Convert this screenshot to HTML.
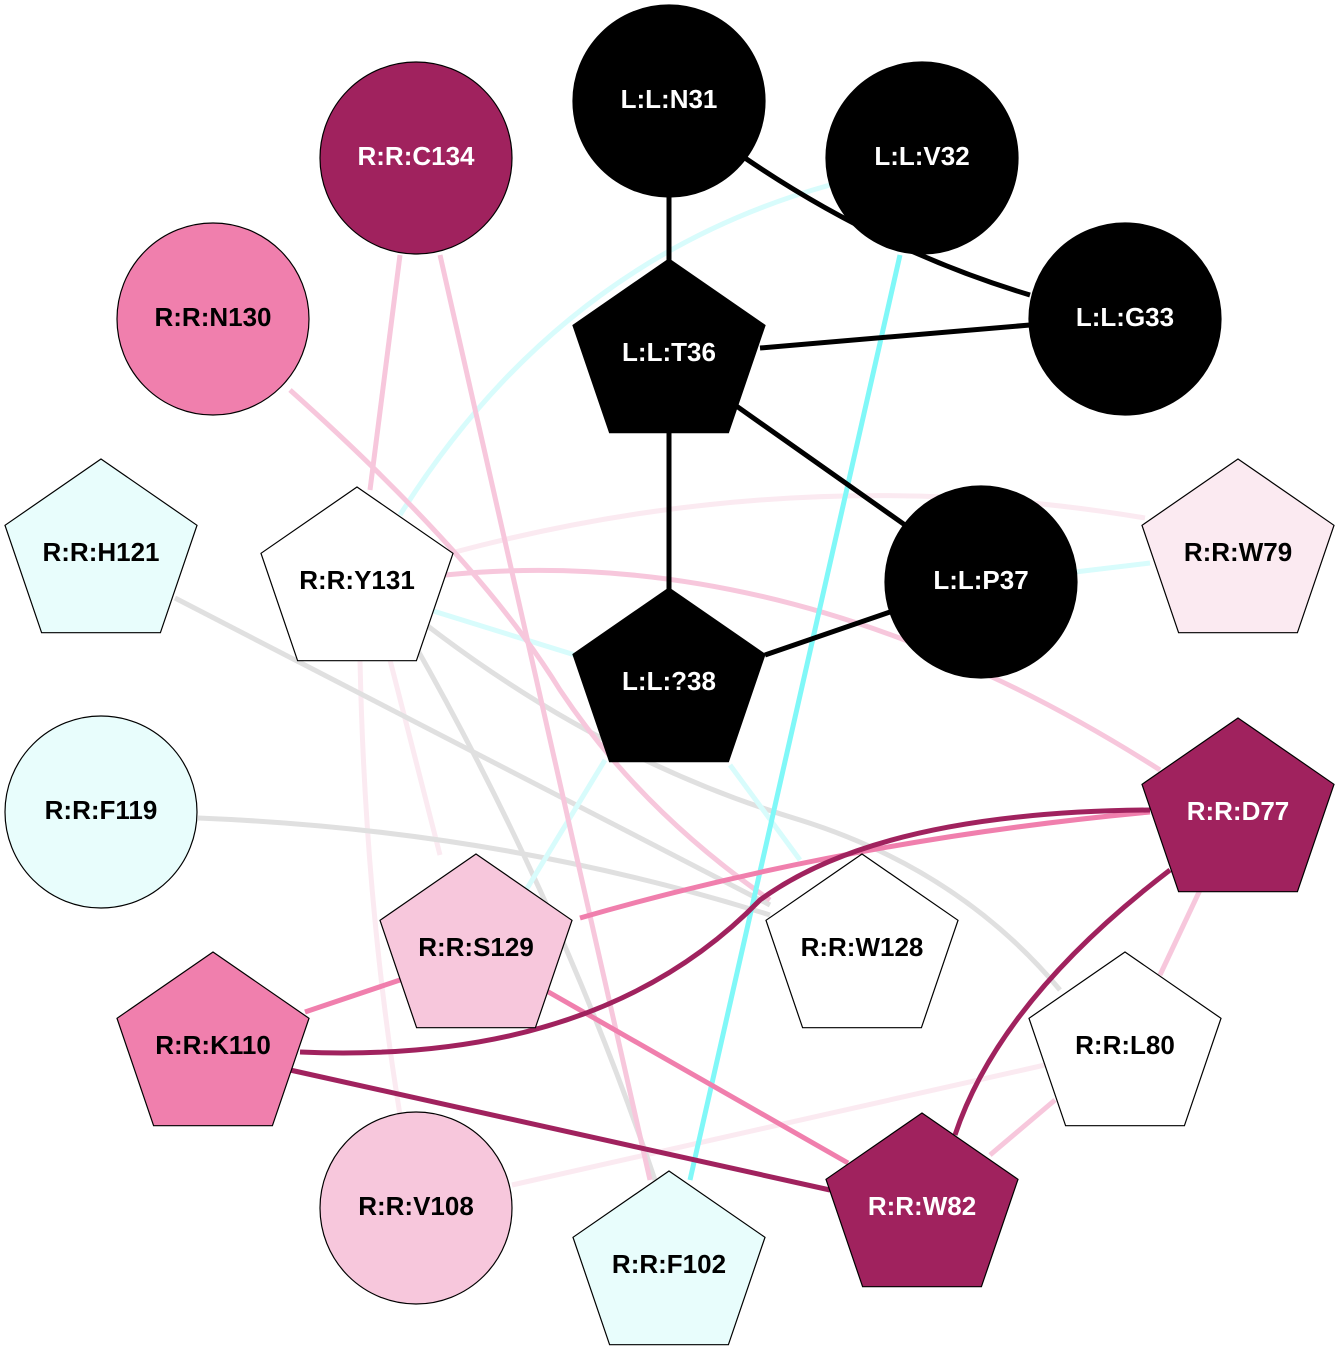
<!DOCTYPE html>
<html><head><meta charset="utf-8"><style>
html,body{margin:0;padding:0;background:#fff}
svg{display:block}
text{font-family:"Liberation Sans",Arial,sans-serif;font-weight:bold;font-size:26px;text-anchor:middle;dominant-baseline:central}
</style></head><body>
<svg width="1338" height="1368" viewBox="0 0 1338 1368" xmlns="http://www.w3.org/2000/svg">
<defs>
<polygon id="pent" points="0,-96 96,-29.7 59.4,77.7 -59.4,77.7 -96,-29.7"/>
</defs>
<g fill="none" stroke-width="5">
<path d="M455,552 Q800,460 1145,518" stroke="#fbeaf1"/>
<path d="M360,660 Q365,900 400,1115" stroke="#fbeaf1"/>
<path d="M390,660 L440,855" stroke="#fbeaf1"/>
<path d="M512,1185 L1045,1065" stroke="#fbeaf1"/>
<path d="M175,598 Q450,740 770,905" stroke="#e0e0e0"/>
<path d="M198,818 Q500,830 770,915" stroke="#e0e0e0"/>
<path d="M420,620 Q600,760 800,820 Q960,870 1060,990" stroke="#e0e0e0"/>
<path d="M412,640 Q560,900 655,1180" stroke="#e0e0e0"/>
<path d="M830,185 Q560,260 400,515" stroke="#d8fcfc"/>
<path d="M430,610 L575,655" stroke="#d8fcfc"/>
<path d="M605,760 L520,900" stroke="#d8fcfc"/>
<path d="M730,765 L800,860" stroke="#d8fcfc"/>
<path d="M1075,572 L1150,563" stroke="#d8fcfc"/>
<path d="M400,255 L370,490" stroke="#f7c7dc"/>
<path d="M440,255 L650,1180" stroke="#f7c7dc"/>
<path d="M290,390 Q480,560 560,690 Q640,810 770,900" stroke="#f7c7dc"/>
<path d="M445,575 Q800,540 1160,770" stroke="#f7c7dc"/>
<path d="M1200,890 L1160,975" stroke="#f7c7dc"/>
<path d="M1055,1100 L990,1155" stroke="#f7c7dc"/>
<path d="M900,255 L690,1180" stroke="#80f8f8"/>
<path d="M580,918 Q850,840 1150,812" stroke="#f07fad"/>
<path d="M305,1012 L400,980" stroke="#f07fad"/>
<path d="M545,990 L848,1163" stroke="#f07fad"/>
<path d="M300,1052 Q600,1065 760,900 Q880,812 1150,810" stroke="#a0225e"/>
<path d="M290,1070 L830,1190" stroke="#a0225e"/>
<path d="M1170,870 Q1000,1000 955,1135" stroke="#a0225e"/>
<path d="M669,195 L669,260" stroke="#000"/>
<path d="M745,158 Q880,250 1030,295" stroke="#000"/>
<path d="M760,348 L1030,325" stroke="#000"/>
<path d="M735,405 L905,525" stroke="#000"/>
<path d="M669,430 L669,590" stroke="#000"/>
<path d="M765,655 L890,612" stroke="#000"/>
</g>
<g stroke="#000" stroke-width="1.2">
<circle cx="669" cy="101" r="96" fill="#000"/>
<circle cx="922" cy="158" r="96" fill="#000"/>
<circle cx="1125" cy="319" r="96" fill="#000"/>
<use href="#pent" x="669" y="355" fill="#000"/>
<circle cx="981" cy="582" r="96" fill="#000"/>
<use href="#pent" x="669" y="684" fill="#000"/>
<circle cx="416" cy="158" r="96" fill="#a0225e"/>
<circle cx="213" cy="319" r="96" fill="#f07fad"/>
<use href="#pent" x="101" y="555" fill="#e8fdfc"/>
<use href="#pent" x="357" y="583" fill="#fff"/>
<use href="#pent" x="1238" y="555" fill="#fbeaf1"/>
<circle cx="101" cy="812" r="96" fill="#e8fdfc"/>
<use href="#pent" x="1238" y="814" fill="#a0225e"/>
<use href="#pent" x="476" y="950" fill="#f7c7dc"/>
<use href="#pent" x="862" y="950" fill="#fff"/>
<use href="#pent" x="213" y="1048" fill="#f07fad"/>
<use href="#pent" x="1125" y="1048" fill="#fff"/>
<circle cx="416" cy="1208" r="96" fill="#f7c7dc"/>
<use href="#pent" x="922" y="1209" fill="#a0225e"/>
<use href="#pent" x="669" y="1267" fill="#e8fdfc"/>
</g>
<g fill="#fff">
<text x="669" y="99">L:L:N31</text>
<text x="922" y="156">L:L:V32</text>
<text x="1125" y="317">L:L:G33</text>
<text x="669" y="352">L:L:T36</text>
<text x="981" y="580">L:L:P37</text>
<text x="669" y="681">L:L:?38</text>
<text x="416" y="156">R:R:C134</text>
<text x="1238" y="811">R:R:D77</text>
<text x="922" y="1206">R:R:W82</text>
</g>
<g fill="#000">
<text x="213" y="317">R:R:N130</text>
<text x="101" y="552">R:R:H121</text>
<text x="357" y="580">R:R:Y131</text>
<text x="1238" y="552">R:R:W79</text>
<text x="101" y="810">R:R:F119</text>
<text x="476" y="947">R:R:S129</text>
<text x="862" y="947">R:R:W128</text>
<text x="213" y="1045">R:R:K110</text>
<text x="1125" y="1045">R:R:L80</text>
<text x="416" y="1206">R:R:V108</text>
<text x="669" y="1264">R:R:F102</text>
</g>
</svg>
</body></html>
